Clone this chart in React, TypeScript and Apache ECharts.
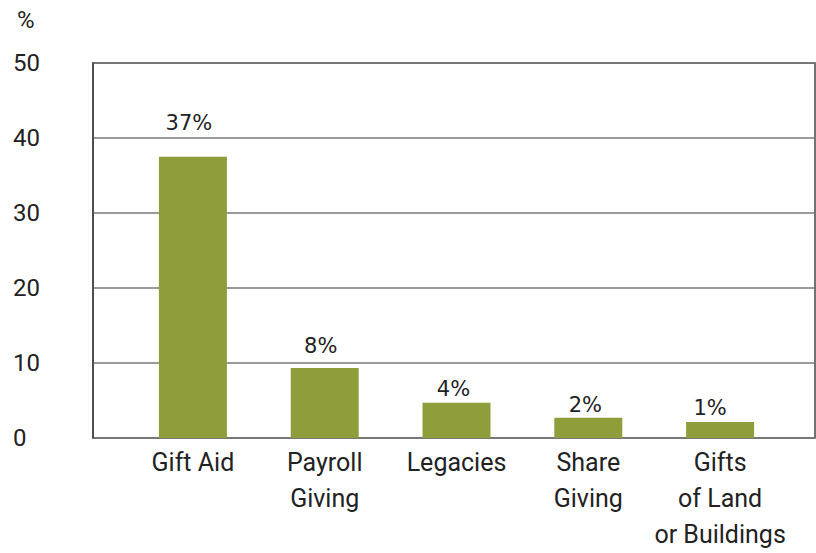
import React, { useEffect, useRef } from "react";
import * as echarts from "echarts";

const categories = ["Gift Aid", "Payroll\nGiving", "Legacies", "Share\nGiving", "Gifts\nof Land\nor Buildings"];
const barValues = [37.5, 9.35, 4.7, 2.7, 2.15];
const valueLabels = ["37%", "8%", "4%", "2%", "1%"];
const yTicks = [0, 10, 20, 30, 40, 50];

const labelDistance = [23, 11, 3, 2, 3];
const labelShiftX = [-4, -4, -3, -3, -10];

const FONT = "Roboto";
const VALUE_FONT = "DejaVu Sans";
const TEXT = "#222222";
const BAR = "#8F9D3B";

export default function App() {
  const ref = useRef<HTMLDivElement>(null);
  useEffect(() => {
    if (!ref.current) return;
    const chart = echarts.init(ref.current, undefined, { renderer: "svg" });
    chart.setOption({
      animation: false,
      backgroundColor: "#ffffff",
      textStyle: { fontFamily: FONT },
      graphic: [
        {
          type: "text",
          left: 17,
          top: 8,
          style: { text: "%", fontSize: 24, fill: TEXT, fontFamily: FONT },
        },
      ],
      grid: [
        { left: 93, right: 1, top: 63, bottom: 115, outerBoundsMode: "none", containLabel: false, show: true, borderColor: "#444444", borderWidth: 1.5, backgroundColor: "transparent" },
        { left: 127, right: 30, top: 63, bottom: 115, outerBoundsMode: "none", containLabel: false },
      ],
      xAxis: [
        { type: "value", gridIndex: 0, show: false, min: 0, max: 1 },
        {
          type: "category",
          gridIndex: 1,
          data: categories,
          axisLine: { show: false },
          axisTick: { show: false },
          axisLabel: { fontSize: 25, lineHeight: 36, margin: 6, color: TEXT, fontFamily: FONT, interval: 0 },
        },
      ],
      yAxis: [
        {
          type: "value",
          gridIndex: 0,
          min: yTicks[0],
          max: yTicks[yTicks.length - 1],
          interval: 10,
          axisLine: { show: true, lineStyle: { color: "#444444", width: 1.5 } },
          axisTick: { show: false },
          splitLine: { show: true, lineStyle: { color: "#7a7a7a", width: 1.5 } },
          axisLabel: { align: "left", margin: 80, fontSize: 24, color: TEXT, fontFamily: FONT },
        },
        { type: "value", gridIndex: 1, min: 0, max: 50, show: false },
      ],
      series: [
        {
          type: "bar",
          xAxisIndex: 1,
          yAxisIndex: 1,
          barWidth: 68,
          itemStyle: { color: BAR },
          data: barValues.map((v, i) => ({
            value: v,
            label: {
              show: true,
              position: "top",
              distance: labelDistance[i],
              offset: [labelShiftX[i], 0],
              formatter: valueLabels[i],
              fontSize: 21,
              color: TEXT,
              fontFamily: VALUE_FONT,
            },
          })),
        },
      ],
    });
    return () => chart.dispose();
  }, []);
  return <div ref={ref} style={{ width: 816, height: 553, position: "absolute", left: 0, top: 0 }} />;
}
